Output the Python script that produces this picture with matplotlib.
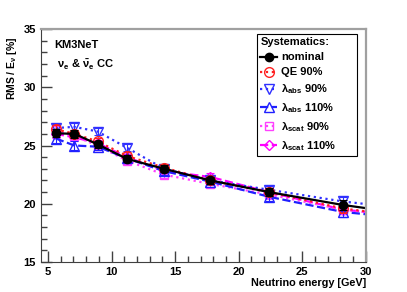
import matplotlib
matplotlib.use("Agg")
import matplotlib.pyplot as plt
from matplotlib.ticker import MultipleLocator

plt.rcParams["font.family"] = ["Liberation Sans", "DejaVu Sans"]
plt.rcParams["font.weight"] = "bold"
plt.rcParams["mathtext.fontset"] = "custom"
plt.rcParams["mathtext.rm"] = "Liberation Sans:bold"
plt.rcParams["mathtext.it"] = "Liberation Sans:bold"
plt.rcParams["mathtext.bf"] = "Liberation Sans:bold"

# bin centres (log spaced), the last one lies beyond the axis and is clipped
energy = [5.62, 7.08, 8.91, 11.22, 14.13, 17.78, 22.39, 28.18, 35.48]

nominal = [26.05, 26.0, 25.1, 23.85, 23.0, 22.0, 21.0, 19.9, 18.8]
qe90 = [26.4, 26.0, 25.35, 24.1, 23.1, 22.0, 21.0, 19.6, 18.6]
abs90 = [26.5, 26.6, 26.2, 24.8, 23.0, 22.0, 21.2, 20.2, 19.3]
abs110 = [25.6, 25.0, 24.9, 23.9, 22.8, 21.9, 20.6, 19.3, 18.5]
scat90 = [26.3, 25.8, 25.0, 23.7, 22.5, 21.7, 20.8, 19.5, 18.6]
scat110 = [26.0, 25.7, 25.2, 24.0, 22.8, 22.3, 21.0, 19.5, 18.7]
err = [0.35, 0.35, 0.3, 0.3, 0.3, 0.3, 0.35, 0.4, 0.4]

series = [
    (nominal, "nominal", "black", "-", "o", "black", 6),
    (qe90, "QE 90%", "#ff2020", ":", "o", "none", 7),
    (abs90, r"$\mathregular{\lambda_{abs}}$ 90%", "#3030ff", ":", "v", "none", 7),
    (abs110, r"$\mathregular{\lambda_{abs}}$ 110%", "#2020ff", "--", "^", "none", 7),
    (scat90, r"$\mathregular{\lambda_{scat}}$ 90%", "#ff40ff", ":", "s", "none", 6),
    (scat110, r"$\mathregular{\lambda_{scat}}$ 110%", "#ff00ff", "--", "D", "none", 5),
]

fig = plt.figure(figsize=(4.07, 2.92), dpi=100)
ax = fig.add_axes([0.1007, 0.1027, 0.798, 0.798])

handles = []
for vals, label, col, ls, mk, face, ms in reversed(series):
    ax.errorbar(energy, vals, yerr=err, fmt="none", ecolor=col, elinewidth=0.8,
                capsize=3, capthick=0.8)
    h, = ax.plot(energy, vals, color=col, linestyle=ls, linewidth=1.6,
                 marker=mk, markersize=ms, markerfacecolor=face,
                 markeredgecolor=col, markeredgewidth=1.0, label=label)
    handles.append(h)
handles = handles[::-1]

ax.set_xlim(4.45, 30)
ax.set_ylim(15, 35)
ax.xaxis.set_major_locator(MultipleLocator(5))
ax.xaxis.set_minor_locator(MultipleLocator(1))
ax.yaxis.set_major_locator(MultipleLocator(5))
ax.yaxis.set_minor_locator(MultipleLocator(1))
ax.tick_params(which="both", direction="in", top=False, right=False,
               labelsize=8, color="#404040")
ax.tick_params(which="major", length=8, width=1)
ax.tick_params(which="minor", length=4, width=1)
for lab in ax.get_xticklabels() + ax.get_yticklabels():
    lab.set_fontweight("bold")

ax.spines["left"].set_color("#404040")
ax.spines["bottom"].set_color("#404040")
ax.spines["top"].set_color("#a0a0a0")
ax.spines["right"].set_color("#a0a0a0")
ax.spines["top"].set_linewidth(1.6)
ax.spines["right"].set_linewidth(1.6)

ax.set_xlabel("Neutrino energy [GeV]", fontsize=7.8, fontweight="bold", loc="right",
              labelpad=1)
ax.text(-0.089, 0.966, r"RMS / E$_{\nu}$ [%]", transform=ax.transAxes,
        fontsize=7.5, fontweight="bold", rotation=90, ha="center", va="top")

ax.text(0.04, 0.93, "KM3NeT", transform=ax.transAxes, fontsize=8,
        fontweight="bold", va="center")
ax.text(0.05, 0.845, r"$\mathregular{\nu_e}$ & $\mathregular{\bar{\nu}_e}$ CC",
        transform=ax.transAxes, fontsize=8, fontweight="bold", va="center")

leg = ax.legend(handles=handles, title="Systematics:", loc="upper left",
                bbox_to_anchor=(0.665, 0.464, 0.307, 0.514), mode="expand",
                fontsize=8, title_fontsize=8,
                frameon=True, fancybox=False, framealpha=1, edgecolor="black",
                handlelength=1.5, handletextpad=0.4, labelspacing=0.45,
                borderpad=0.3, borderaxespad=0)
leg._legend_box.align = "left"
leg.get_title().set_fontweight("bold")
leg.get_frame().set_linewidth(0.8)
for t in leg.get_texts():
    t.set_fontweight("bold")

fig.savefig("out.png", dpi=100)
